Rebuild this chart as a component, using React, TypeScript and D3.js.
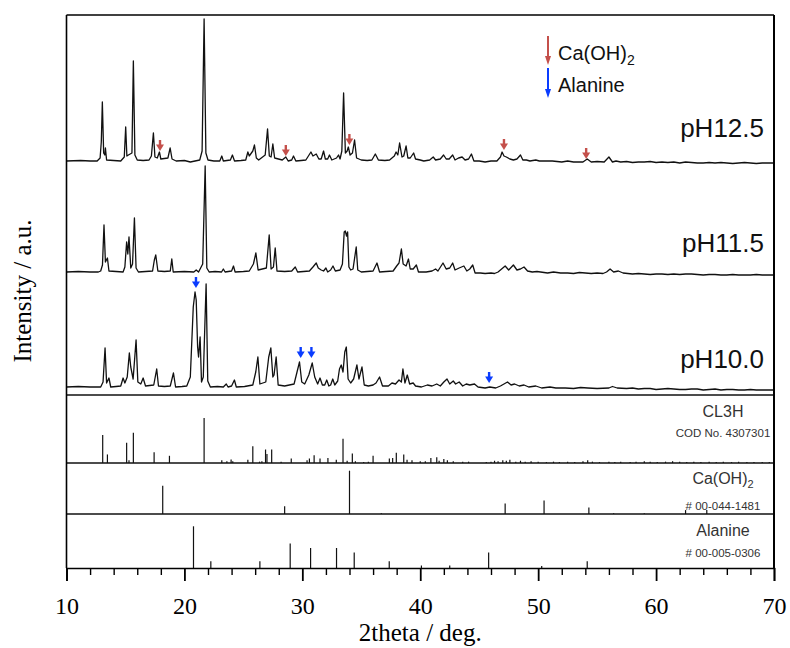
import React, { useEffect, useRef } from 'react';
import * as d3 from 'd3';

// ---------- data ----------
const X_DOMAIN: [number, number] = [10, 70];
const X_MAJOR_TICKS = [10, 20, 30, 40, 50, 60, 70];
const X_MINOR_TICKS = [12, 14, 16, 18, 22, 24, 26, 28, 32, 34, 36, 38, 42, 44, 46, 48, 52, 54, 56, 58, 62, 64, 66, 68];

const SAMPLE_LABELS = ['pH12.5', 'pH11.5', 'pH10.0'];
const SAMPLE_OFFSETS = [234, 123, 8];

const PH125: [number, number][] = [
  [10, 0], [11.2, 0.5], [12.0, 0], [12.6, 0], [12.85, 3], [12.95, 19], [13.04, 59], [13.15, 8], [13.25, 6], [13.3, 13], [13.4, 1],
  [14.0, 0.5], [14.6, 0], [14.9, 4], [15.02, 34], [15.12, 5], [15.25, 6], [15.55, 8], [15.67, 100], [15.8, 6], [16.0, 1],
  [16.5, 0.5], [17.0, 1], [17.2, 5], [17.37, 28], [17.5, 4], [17.7, 3], [17.88, 9], [18.0, 2], [18.6, 3], [18.79, 13], [18.95, 2],
  [19.3, 0], [20.0, 0.5], [20.5, -1], [21.3, 1], [21.5, 10], [21.67, 142], [21.82, 8], [22.0, 1], [22.5, 0], [23.0, 0], [23.17, 5],
  [23.3, 0], [23.9, 1], [24.07, 6], [24.25, 0], [24.8, 0.5], [25.2, 1], [25.38, 9], [25.5, 5], [25.8, 10], [25.94, 16], [26.1, 3],
  [26.3, 1], [26.85, 6], [27.05, 32], [27.2, 5], [27.35, 4], [27.5, 17], [27.65, 3], [28.3, 1], [28.6, 4], [28.8, 0], [29.1, 1],
  [29.25, 5], [29.45, 0], [29.9, 0.5], [30.3, 1], [30.73, 9], [30.9, 5], [31.18, 7], [31.4, 2], [31.6, 2], [31.8, 10], [31.95, 2],
  [32.15, 2], [32.3, 6], [32.5, 1], [32.9, 3], [33.07, 6], [33.2, 2], [33.35, 10], [33.5, 68], [33.65, 8], [33.8, 10], [33.9, 14],
  [34.05, 6], [34.25, 8], [34.43, 21], [34.6, 3], [35.0, 1], [35.5, 0.5], [35.9, 1], [36.19, 7], [36.45, 1], [37.0, 0.5], [37.4, 1],
  [37.8, 5], [37.95, 9], [38.1, 6], [38.25, 18], [38.45, 4], [38.6, 5], [38.8, 15], [38.95, 3], [39.15, 3], [39.44, 8], [39.6, 2],
  [40.0, 1], [40.3, 0], [40.8, 1], [41.1, 4], [41.3, 1], [41.7, 2], [41.98, 6], [42.2, 2], [42.45, 2], [42.75, 6], [42.95, 1],
  [43.25, 3], [43.55, 4], [43.8, 1], [44.1, 2], [44.34, 7], [44.55, 0], [45.0, 0], [45.5, -1], [46.0, 0], [46.5, 0], [46.8, 4],
  [46.94, 9], [47.1, 5], [47.3, 4], [47.6, 2], [47.9, 1], [48.2, 2], [48.5, 6], [48.7, 1], [49.0, 1], [49.3, 0], [49.8, 1],
  [50.1, 0], [50.6, 0], [51.2, 0], [51.6, -0.5], [52.0, -1], [52.5, 0], [53.0, -1], [53.8, -1], [54.16, 2], [54.5, -1], [55.0, -0.5],
  [55.6, -1], [56.0, 4], [56.3, -1], [56.6, 0], [57.0, -1], [57.5, -0.5], [58.0, -1.5], [58.5, -1], [59.0, -1], [59.5, -0.5],
  [60.0, -1.5], [60.5, -1], [61.0, -1.5], [61.5, -1], [62.0, -2], [62.5, -1], [63.0, -1.5], [63.5, -2], [64.0, -2], [64.5, -1.5],
  [65.0, -2], [65.5, -1.5], [66.0, -2], [66.5, -2.5], [67.0, -2], [67.5, -1.5], [68.0, -2], [68.5, -2.5], [69.0, -2], [69.5, -2], [70, -2],
];

const PH115: [number, number][] = [
  [10, 0], [11.0, 0.5], [12.0, 0], [12.7, 0], [12.9, 1], [13.05, 7], [13.18, 47], [13.3, 10], [13.47, 14], [13.6, 1], [14.2, 0.5],
  [14.8, 0], [14.95, 5], [15.1, 30], [15.2, 18], [15.3, 35], [15.45, 4], [15.6, 8], [15.76, 54], [15.9, 4], [16.1, 0], [16.7, 0.5],
  [17.3, 1], [17.45, 12], [17.57, 17], [17.75, 1], [18.3, 0.5], [18.8, 1], [18.93, 13], [19.05, 0], [20.0, 0.5], [20.8, 0], [21.0, 2],
  [21.2, 0], [21.55, 8], [21.76, 106], [21.9, 4], [22.1, 0], [22.6, 0.5], [23.15, 0], [23.3, 3], [23.45, 0], [24.0, 1], [24.16, 6],
  [24.3, 0], [25.0, 0.5], [25.5, 1], [25.85, 8], [26.06, 19], [26.25, 2], [26.95, 4], [27.19, 37], [27.35, 3], [27.55, 5], [27.7, 24],
  [27.85, 1], [28.5, 0.5], [29.1, 1], [29.4, 5], [29.6, 0], [30.1, 0.5], [30.6, 1], [30.9, 5], [31.18, 9], [31.35, 4], [31.6, 2],
  [31.8, 1], [32.0, 4], [32.15, 0], [32.4, 2], [32.6, 6], [32.8, 1], [33.2, 2], [33.4, 8], [33.55, 40], [33.64, 41], [33.75, 36],
  [33.84, 40], [33.95, 5], [34.1, 2], [34.3, 3], [34.57, 25], [34.7, 2], [35.0, 0], [35.5, 0.5], [36.0, 1], [36.33, 9], [36.55, 0],
  [37.1, 0.5], [37.7, 1], [38.0, 6], [38.2, 9], [38.4, 23], [38.55, 8], [38.8, 6], [39.0, 13], [39.15, 3], [39.4, 3], [39.67, 7],
  [39.85, 0], [40.5, 0], [41.0, 1], [41.3, 3], [41.5, 1], [41.93, 9], [42.2, 3], [42.5, 4], [42.75, 9], [42.95, 2], [43.3, 4],
  [43.7, 6], [43.95, 1], [44.2, 3], [44.45, 7], [44.65, -1], [45.1, -1], [45.5, -1.5], [46.0, -1], [46.3, -1.5], [46.6, 0], [46.9, 3],
  [47.2, 6], [47.5, 2], [47.9, 7], [48.2, 2], [48.5, 3], [48.8, 5], [49.1, 1], [49.5, 0], [49.9, 0.5], [50.2, 0], [50.8, -1],
  [51.3, 0], [51.9, -1], [52.5, -1], [53.0, -1.5], [53.5, -0.5], [54.0, -1], [54.5, -1.5], [55.0, -1], [55.5, -1.5], [55.8, 0],
  [56.1, 3], [56.4, 0], [56.8, 1], [57.2, -1], [57.6, -1.5], [58.0, -2], [58.5, -1.5], [59.0, -2], [59.5, -2.5], [60.0, -2],
  [60.5, -2], [61.0, -2.5], [61.5, -2], [62.0, -2.5], [62.5, -2], [63.0, -2], [63.5, -2.5], [64.0, -3], [64.5, -2.5], [65.0, -2.5],
  [65.5, -3], [66.0, -3], [66.5, -2.5], [67.0, -3], [67.5, -3], [68.0, -3], [68.5, -2.5], [69.0, -3], [69.5, -3], [70, -3],
];

const PH100: [number, number][] = [
  [10, 0], [11.0, 0.5], [12.0, 0], [12.9, 0], [13.1, 5], [13.27, 39], [13.4, 4], [13.6, 9], [13.75, 0], [14.2, 0.5], [14.6, 1],
  [14.8, 9], [14.95, 4], [15.15, 10], [15.33, 34], [15.45, 20], [15.65, 8], [15.9, 47], [16.05, 5], [16.3, 3], [16.5, 9], [16.7, 1],
  [17.4, 2], [17.65, 18], [17.8, 1], [18.3, 0.5], [18.8, 1], [19.07, 14], [19.25, 0], [19.8, 0.5], [20.2, 1], [20.5, 10], [20.75, 80],
  [20.9, 95], [21.0, 87], [21.12, 40], [21.2, 30], [21.33, 50], [21.45, 5], [21.6, 10], [21.84, 103], [21.98, 6], [22.2, 0],
  [22.8, 0.5], [23.3, 0], [23.55, 3], [23.7, 0], [24.0, 1], [24.24, 7], [24.4, 0], [25.1, 0.5], [25.8, 2], [26.05, 15], [26.23, 30],
  [26.4, 3], [26.9, 5], [27.15, 30], [27.33, 39], [27.5, 10], [27.6, 12], [27.78, 30], [27.95, 2], [28.5, 1], [29.3, 3], [29.55, 15],
  [29.76, 25], [29.95, 5], [30.2, 3], [30.55, 12], [30.84, 24], [31.05, 10], [31.3, 3], [31.5, 9], [31.7, 2], [31.9, 2], [32.07, 7],
  [32.25, 1], [32.4, 2], [32.58, 8], [32.75, 2], [33.0, 6], [33.15, 18], [33.3, 22], [33.45, 15], [33.6, 35], [33.73, 40],
  [33.88, 8], [34.1, 4], [34.35, 8], [34.63, 22], [34.8, 8], [35.06, 20], [35.25, 2], [35.6, 1], [36.0, 2], [36.25, 4], [36.55, 10],
  [36.8, 1], [37.3, 1], [37.6, 4], [37.9, 3], [38.2, 7], [38.4, 5], [38.53, 18], [38.7, 4], [38.9, 12], [39.1, 3], [39.4, 4],
  [39.6, 1], [40.1, 0], [40.6, 2], [41.0, 1], [41.4, 3], [41.7, 1], [42.0, 5], [42.27, 8], [42.5, 3], [42.8, 6], [43.0, 3],
  [43.3, 5], [43.6, 1], [43.9, 3], [44.2, 2], [44.6, 3], [44.9, 0], [45.5, -1], [45.9, 0], [46.4, -1], [46.8, 1], [47.1, 3],
  [47.4, 5], [47.7, 2], [48.0, 3], [48.4, 1], [48.8, 2], [49.2, 0], [49.8, 1], [50.3, -1], [51.0, 0], [51.5, -1], [52.3, -1],
  [53.0, -1.5], [53.6, -0.5], [54.2, -1], [55.0, -1.5], [56.0, -1], [56.3, 0.5], [56.7, -1], [57.5, -1.5], [58.0, -1], [58.5, -2],
  [59.0, -1.5], [59.5, -1.5], [60.0, -2.5], [60.5, -2], [61.0, -1.5], [61.5, -2], [62.0, -2.5], [62.5, -2.5], [63.0, -2], [63.5, -2],
  [64.0, -3], [64.5, -2.5], [65.0, -2], [65.5, -3], [66.0, -2.5], [66.5, -2.5], [67.0, -3], [67.5, -3], [68.0, -2.5], [68.5, -3],
  [69.0, -3], [69.5, -3], [70, -3],
];

// arrows: [2theta, tip intensity above trace baseline]
const CAOH2_ARROWS: [number, number][] = [[17.93, 10], [28.6, 5], [33.99, 16], [47.1, 11], [54.07, 2]];
const ALANINE_ARROWS: [number, number][] = [[20.98, 99], [29.86, 29], [30.77, 29], [45.84, 4]];

// reference stick patterns: [2theta, relative intensity]
const CL3H_STICKS: [number, number][] = [
  [13.07, 62], [13.47, 19], [15.1, 45], [15.3, 6], [15.67, 67], [17.43, 24], [18.73, 16], [21.67, 100], [23.17, 6], [23.6, 4],
  [23.96, 8], [24.1, 4], [25.38, 7], [25.8, 37], [26.37, 3], [26.57, 4], [26.88, 30], [27.0, 20], [27.4, 30], [28.2, 3], [29.06, 10],
  [30.4, 6], [30.6, 10], [31.0, 17], [31.5, 10], [32.17, 11], [32.88, 7], [33.45, 54], [33.8, 5], [34.24, 21], [34.5, 4], [35.2, 2],
  [35.6, 3], [36.0, 16], [37.38, 10], [37.66, 11], [37.97, 23], [38.6, 19], [38.88, 7], [39.3, 6], [40.0, 4], [40.43, 4], [40.9, 11],
  [41.4, 13], [41.6, 5], [42.0, 9], [42.3, 6], [42.8, 4], [43.6, 3], [44.1, 3], [45.6, 2], [46.0, 3], [46.3, 5], [46.6, 4], [47.0, 6],
  [47.3, 5], [47.6, 7], [48.1, 3], [48.5, 5], [48.9, 3], [49.4, 4], [50.0, 3], [50.7, 2], [51.3, 3], [51.8, 2], [52.5, 3], [53.1, 2],
  [53.8, 4], [54.2, 6], [54.6, 3], [55.2, 2], [56.0, 3], [56.5, 2], [57.0, 3], [57.8, 2], [58.3, 3], [59.0, 4], [59.5, 3], [60.1, 2],
  [60.8, 3], [61.4, 4], [62.0, 3], [62.6, 2], [63.2, 3], [63.8, 2], [64.5, 3], [65.1, 2], [65.7, 3], [66.4, 2], [67.0, 3], [67.7, 2],
  [68.3, 2], [69.0, 2], [69.6, 2],
];
const CAOH2_STICKS: [number, number][] = [
  [18.16, 65], [28.5, 18], [34.0, 100], [36.7, 2], [47.2, 24], [50.5, 31], [54.3, 15], [56.4, 2], [59.0, 2], [62.5, 9], [64.3, 9],
];
const ALANINE_STICKS: [number, number][] = [
  [20.77, 100], [22.24, 16], [26.4, 16], [28.97, 59], [30.7, 48], [32.9, 48], [34.4, 37], [37.37, 16], [40.1, 6], [42.5, 6],
  [45.8, 37], [50.3, 5], [54.16, 16],
];

// ---------- layout ----------
const W = 790;
const H = 648;
const LEFT = 66.5;
const RIGHT = 774;
const TOP = 15;
const BOTTOM = 568;
const MAIN_BOTTOM = 395;
const CL3H_BOTTOM = 463;
const CAOH2_BOTTOM = 514;

const SANS = '"Liberation Sans", Arial, Helvetica, sans-serif';
const SERIF = '"Liberation Serif", "Times New Roman", serif';
const RED = '#c4504b';
const BLUE = '#0a3cff';

const x = d3.scaleLinear().domain(X_DOMAIN).range([LEFT, RIGHT]);
const yMain = d3.scaleLinear().domain([0, 380]).range([MAIN_BOTTOM, TOP]);

function Arrow({ cx, tip, len, head, width, shaft, color }: any) {
  return (
    <g>
      <line x1={cx} x2={cx} y1={tip - len} y2={tip - head + 0.5} stroke={color} strokeWidth={shaft} />
      <path d={`M${cx - width / 2},${tip - head} L${cx + width / 2},${tip - head} L${cx},${tip} Z`} fill={color} />
    </g>
  );
}

function XAxis() {
  const ref = useRef<SVGGElement>(null);
  useEffect(() => {
    const g = d3.select(ref.current);
    g.selectAll('*').remove();
    const minor = g.append('g');
    minor.call(d3.axisBottom(x).tickValues(X_MINOR_TICKS).tickSize(7).tickFormat(() => '') as any);
    minor.select('.domain').remove();
    minor.selectAll('line').attr('stroke', '#000').attr('stroke-width', 1.4);
    const major = g.append('g');
    major.call(d3.axisBottom(x).tickValues(X_MAJOR_TICKS).tickSize(13).tickFormat(d3.format('d')) as any);
    major.select('.domain').attr('stroke', '#000').attr('stroke-width', 1.6);
    major.selectAll('line').attr('stroke', '#000').attr('stroke-width', 1.8);
    major.selectAll('text')
      .attr('y', 46).attr('dy', 0)
      .attr('font-family', SERIF).attr('font-size', 24).attr('fill', '#000');
  }, []);
  return <g ref={ref} transform={`translate(0,${BOTTOM})`} />;
}

export default function App() {
  const traces = [PH125, PH115, PH100];
  const labelY = [137, 252, 368];
  const line = (offset: number) =>
    d3.line<[number, number]>().x((d) => x(d[0])).y((d) => yMain(offset + d[1]));

  const panels = [
    { sticks: CL3H_STICKS, bottom: CL3H_BOTTOM, px: 45, name: 'CL3H', code: 'COD No. 4307301', nameY: 417, codeY: 437 },
    { sticks: CAOH2_STICKS, bottom: CAOH2_BOTTOM, px: 43.3, name: 'Ca(OH)', sub: '2', code: '# 00-044-1481', nameY: 483.5, codeY: 510 },
    { sticks: ALANINE_STICKS, bottom: BOTTOM, px: 41.7, name: 'Alanine', code: '# 00-005-0306', nameY: 536, codeY: 557 },
  ];

  return (
    <svg width={W} height={H} style={{ position: 'absolute', left: 0, top: 0, background: '#fff' }}>
      <rect x={0} y={0} width={W} height={H} fill="#fff" />

      {/* traces */}
      {traces.map((t, i) => (
        <path key={i} d={line(SAMPLE_OFFSETS[i])(t) || ''} fill="none" stroke="#111" strokeWidth={1.3} strokeLinejoin="round" />
      ))}
      {SAMPLE_LABELS.map((s, i) => (
        <text key={s} x={764} y={labelY[i]} textAnchor="end" fontFamily={SANS} fontSize={26} fill="#111">{s}</text>
      ))}

      {/* marker arrows */}
      {CAOH2_ARROWS.map(([t, v], i) => (
        <Arrow key={'r' + i} cx={x(t)} tip={yMain(SAMPLE_OFFSETS[0] + v)} len={11} head={6.5} width={8} shaft={2.4} color={RED} />
      ))}
      {ALANINE_ARROWS.map(([t, v], i) => (
        <Arrow key={'b' + i} cx={x(t)} tip={yMain(SAMPLE_OFFSETS[2] + v)} len={11} head={6.5} width={8} shaft={2.4} color={BLUE} />
      ))}

      {/* legend */}
      <Arrow cx={548} tip={65} len={29} head={9} width={6} shaft={2} color={RED} />
      <Arrow cx={548} tip={98} len={30} head={9} width={6} shaft={2} color={BLUE} />
      <text x={558} y={60} fontFamily={SANS} fontSize={20} fill="#111">
        Ca(OH)<tspan fontSize={14} dy={5}>2</tspan>
      </text>
      <text x={558} y={92} fontFamily={SANS} fontSize={20} fill="#111">Alanine</text>

      {/* reference stick panels */}
      {panels.map((p, i) => {
        const ys = d3.scaleLinear().domain([0, 100]).range([p.bottom, p.bottom - p.px]);
        return (
          <g key={i}>
            {p.sticks.map(([t, v], j) => (
              <line key={j} x1={x(t)} x2={x(t)} y1={ys(0)} y2={ys(v)} stroke="#111" strokeWidth={1.2} />
            ))}
            <text x={723} y={p.nameY} textAnchor="middle" fontFamily={SANS} fontSize={16} fill="#333">
              {p.name}
              {p.sub ? <tspan fontSize={11} dy={4}>{p.sub}</tspan> : null}
            </text>
            <text x={723} y={p.codeY} textAnchor="middle" fontFamily={SANS} fontSize={11.5} fill="#333">{p.code}</text>
          </g>
        );
      })}

      {/* panel dividers */}
      {[MAIN_BOTTOM, CL3H_BOTTOM, CAOH2_BOTTOM].map((yy) => (
        <line key={yy} x1={LEFT} x2={RIGHT} y1={yy} y2={yy} stroke="#111" strokeWidth={1.3} />
      ))}

      {/* frame */}
      <line x1={LEFT} x2={RIGHT} y1={TOP} y2={TOP} stroke="#000" strokeWidth={1.6} />
      <line x1={LEFT} x2={LEFT} y1={TOP} y2={BOTTOM} stroke="#000" strokeWidth={1.6} />
      <line x1={RIGHT} x2={RIGHT} y1={TOP} y2={BOTTOM} stroke="#000" strokeWidth={2} />

      <XAxis />

      <text x={(LEFT + RIGHT) / 2} y={641} textAnchor="middle" fontFamily={SERIF} fontSize={25} fill="#000">2theta / deg.</text>
      <text transform={`translate(31,291) rotate(-90)`} textAnchor="middle" fontFamily={SERIF} fontSize={25} fill="#000">Intensity / a.u.</text>
    </svg>
  );
}
